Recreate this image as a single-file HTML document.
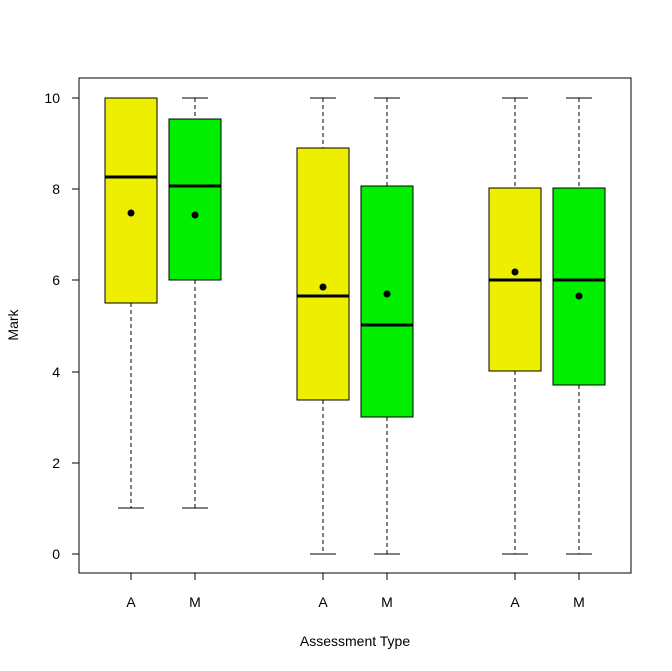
<!DOCTYPE html>
<html><head><meta charset="utf-8"><style>body{margin:0;background:#fff}svg{display:block}</style></head><body>
<svg width="672" height="671" xmlns="http://www.w3.org/2000/svg" font-family="Liberation Sans, Arial, sans-serif">
<rect width="672" height="671" fill="#fff"/>
<g stroke="#000" stroke-width="1" fill="none">
<!-- whiskers -->
<g stroke-dasharray="4,3">
<line x1="131" y1="303" x2="131" y2="508"/><line x1="195" y1="280" x2="195" y2="508"/><line x1="195" y1="98" x2="195" y2="119"/>
<line x1="323" y1="98" x2="323" y2="148"/><line x1="323" y1="400" x2="323" y2="554"/>
<line x1="387" y1="98" x2="387" y2="186"/><line x1="387" y1="417" x2="387" y2="554"/>
<line x1="515" y1="98" x2="515" y2="188"/><line x1="515" y1="371" x2="515" y2="554"/>
<line x1="579" y1="98" x2="579" y2="188"/><line x1="579" y1="385" x2="579" y2="554"/>
</g>
<line x1="118" y1="508" x2="144" y2="508"/><line x1="182" y1="508" x2="208" y2="508"/><line x1="182" y1="98" x2="208" y2="98"/>
<line x1="310" y1="98" x2="336" y2="98"/><line x1="310" y1="554" x2="336" y2="554"/>
<line x1="374" y1="98" x2="400" y2="98"/><line x1="374" y1="554" x2="400" y2="554"/>
<line x1="502" y1="98" x2="528" y2="98"/><line x1="502" y1="554" x2="528" y2="554"/>
<line x1="566" y1="98" x2="592" y2="98"/><line x1="566" y1="554" x2="592" y2="554"/>
<!-- boxes -->
<rect x="105" y="98" width="52" height="205" fill="#EEEE00"/>
<rect x="169" y="119" width="52" height="161" fill="#00EE00"/>
<rect x="297" y="148" width="52" height="252" fill="#EEEE00"/>
<rect x="361" y="186" width="52" height="231" fill="#00EE00"/>
<rect x="489" y="188" width="52" height="183" fill="#EEEE00"/>
<rect x="553" y="188" width="52" height="197" fill="#00EE00"/>
</g>
<g stroke="#000" stroke-width="3">
<line x1="105" y1="177" x2="157" y2="177"/><line x1="169" y1="186" x2="221" y2="186"/>
<line x1="297" y1="296" x2="349" y2="296"/><line x1="361" y1="325" x2="413" y2="325"/>
<line x1="489" y1="280" x2="541" y2="280"/><line x1="553" y1="280" x2="605" y2="280"/>
</g>
<g fill="#000">
<circle cx="131" cy="213" r="3.5"/><circle cx="195" cy="215" r="3.5"/>
<circle cx="323" cy="287" r="3.5"/><circle cx="387" cy="294" r="3.5"/>
<circle cx="515" cy="272" r="3.5"/><circle cx="579" cy="296" r="3.5"/>
</g>
<rect x="79" y="78" width="552" height="495" fill="none" stroke="#000"/>
<g stroke="#000">
<line x1="72" y1="98" x2="79" y2="98"/><line x1="72" y1="189" x2="79" y2="189"/><line x1="72" y1="280" x2="79" y2="280"/>
<line x1="72" y1="372" x2="79" y2="372"/><line x1="72" y1="463" x2="79" y2="463"/><line x1="72" y1="554" x2="79" y2="554"/>
<line x1="131" y1="573" x2="131" y2="580"/><line x1="195" y1="573" x2="195" y2="580"/><line x1="323" y1="573" x2="323" y2="580"/>
<line x1="387" y1="573" x2="387" y2="580"/><line x1="515" y1="573" x2="515" y2="580"/><line x1="579" y1="573" x2="579" y2="580"/>
</g>
<g font-size="14" text-anchor="end" fill="#000">
<text x="60" y="103">10</text><text x="60" y="194">8</text><text x="60" y="285">6</text>
<text x="60" y="377">4</text><text x="60" y="468">2</text><text x="60" y="559">0</text>
</g>
<g font-size="14" text-anchor="middle" fill="#000">
<text x="131" y="607">A</text><text x="195" y="607">M</text><text x="323" y="607">A</text>
<text x="387" y="607">M</text><text x="515" y="607">A</text><text x="579" y="607">M</text>
<text x="355" y="646">Assessment Type</text>
<text transform="translate(18,325) rotate(-90)">Mark</text>
</g>
</svg>
</body></html>
